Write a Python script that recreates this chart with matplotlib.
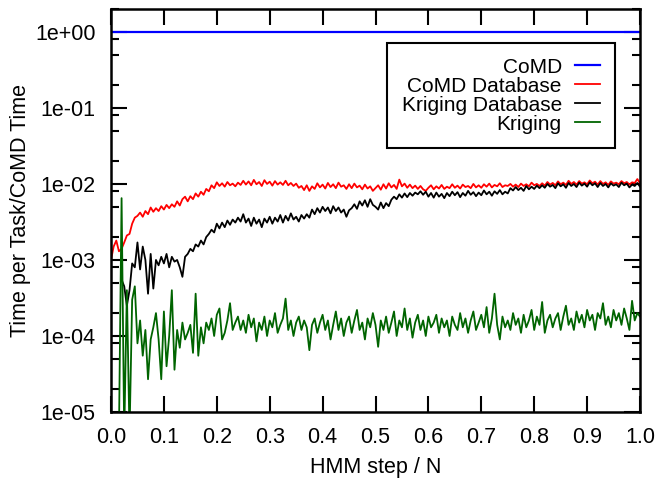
import numpy as np
import matplotlib
matplotlib.use("Agg")
import matplotlib.pyplot as plt
from matplotlib.ticker import FixedLocator, FuncFormatter, LogLocator, NullFormatter

plt.rcParams['font.family'] = ['Liberation Sans', 'DejaVu Sans']

nan = np.nan

# HMM step / N, one sample every 0.005
steps = np.linspace(0.0, 1.0, 201)

# CoMD time itself (normalised)
comd_x = [0.0, 1.0]
comd = [1.0, 1.0]

# CoMD Database, in units of 1e-3
comd_db = [
    1.0, 1.5, 1.8, 1.3, 1.4, 1.7, 2.1, 2.2, 3.0, 3.6,
    3.8, 4.2, 3.7, 4.4, 4.0, 4.9, 4.3, 4.8, 4.4, 5.1,
    4.6, 5.3, 4.8, 5.4, 5.0, 5.9, 5.2, 6.3, 6.8, 5.9,
    6.9, 6.3, 7.5, 6.8, 7.9, 7.2, 8.6, 8.0, 9.6, 8.8,
    10.5, 9.4, 10.2, 9.2, 10.6, 9.6, 10.1, 9.3, 10.4, 9.7,
    11.0, 9.8, 10.8, 9.6, 11.3, 9.9, 10.6, 9.4, 11.2, 10.0,
    10.7, 9.5, 10.9, 9.8, 10.5, 9.7, 11.0, 9.6, 10.3, 9.4,
    10.1, 8.9, 9.4, 8.3, 9.6, 8.1, 9.3, 8.6, 10.2, 9.0,
    9.8, 8.7, 10.3, 9.1, 9.9, 8.8, 10.4, 9.2, 9.6, 8.6,
    9.9, 8.8, 10.1, 9.0, 9.5, 8.5, 9.8, 8.7, 9.3, 8.1,
    8.8, 9.6, 8.4, 9.9, 8.7, 10.2, 9.0, 9.7, 8.6, 11.4,
    9.3, 10.1, 8.9, 9.8, 8.8, 9.5, 8.6, 9.4, 8.5, 8.1,
    8.9, 9.6, 8.5, 9.3, 8.7, 9.7, 8.6, 9.2, 8.8, 9.9,
    8.9, 9.5, 8.7, 9.8, 9.1, 9.4, 8.8, 10.0, 9.0, 9.6,
    8.9, 9.9, 9.2, 10.1, 9.0, 9.7, 9.3, 10.2, 9.1, 9.6,
    9.4, 10.0, 9.2, 9.8, 9.1, 10.1, 9.4, 9.9, 9.3, 10.4,
    9.6, 10.0, 9.4, 10.2, 9.5, 10.6, 9.8, 10.3, 9.6, 10.8,
    9.9, 10.4, 9.7, 11.0, 10.0, 10.6, 9.8, 10.9, 10.1, 10.5,
    9.9, 11.1, 10.2, 10.7, 9.8, 10.9, 10.0, 10.5, 9.7, 10.8,
    10.1, 10.4, 9.9, 10.9, 10.2, 10.6, 9.8, 10.5, 10.3, 11.6,
    10.2,
]

# Kriging Database, in units of 1e-3
kriging_db = [
    nan, nan, nan, nan, 0.55, 0.45, 0.25, 0.4, 0.9, 0.8,
    1.7, 0.75, 1.5, 1.0, 0.36, 1.2, 0.42, 1.0, 0.85, 1.1,
    0.9, 1.2, 0.8, 1.1, 0.95, 1.0, 0.8, 0.6, 1.1, 1.2,
    1.4, 1.3, 1.6, 1.5, 1.8, 1.6, 2.0, 2.2, 2.5, 2.3,
    3.0, 2.6, 3.1, 2.7, 3.3, 2.9, 3.4, 3.1, 3.6, 3.2,
    4.0, 3.1, 3.5, 2.8, 3.6, 3.0, 3.4, 2.7, 3.5, 3.1,
    3.7, 3.0, 3.6, 3.2, 3.9, 3.1, 3.8, 3.3, 4.1, 3.4,
    3.7, 3.2, 3.9, 3.5, 4.0, 3.6, 4.6, 4.0, 4.8, 4.2,
    5.0, 4.4, 4.9, 4.1, 5.1, 4.4, 4.9, 4.2, 4.6, 3.7,
    4.5, 4.8, 5.4, 4.7, 5.9, 5.2, 6.1, 5.0, 6.3, 5.3,
    5.0, 4.6, 5.7, 4.8, 5.6, 5.1, 6.2, 6.8, 6.3, 7.3,
    6.6, 7.5, 6.7, 7.6, 7.0, 7.7, 7.3, 8.0, 7.2, 7.9,
    6.8, 7.6, 6.6, 7.7, 6.8, 7.4, 6.5, 7.6, 6.9, 7.9,
    7.1, 7.8, 6.7, 7.6, 7.0, 8.1, 7.2, 7.8, 6.9, 7.7,
    7.1, 8.2, 7.3, 7.9, 7.0, 8.0, 7.4, 8.3, 7.3, 7.9,
    7.5, 8.8, 8.2, 9.1, 8.3, 8.9, 8.1, 9.4, 8.5, 9.2,
    8.6, 9.5, 8.8, 9.6, 8.9, 10.0, 9.2, 9.7, 8.8, 10.2,
    9.3, 9.9, 8.9, 10.3, 9.4, 10.0, 9.1, 10.4, 9.5, 10.1,
    9.2, 10.5, 9.6, 10.2, 9.1, 10.3, 9.4, 10.0, 9.0, 10.2,
    9.5, 9.9, 9.1, 10.4, 9.6, 10.1, 9.0, 9.8, 9.4, 10.3,
    9.2,
]

# Kriging, in units of 1e-4
kriging = [
    nan, nan, nan, 0.05, 65.0, 0.05, 4.0, 0.05, 3.0, 4.5,
    0.8, 1.6, 0.55, 1.2, 0.27, 0.9, 1.3, 2.0, 0.9, 0.27,
    2.1, 0.4, 1.0, 4.0, 0.36, 1.2, 0.7, 1.5, 0.9, 1.1,
    1.4, 0.6, 3.6, 0.55, 1.3, 0.8, 1.5, 1.2, 1.7, 1.0,
    1.9, 2.3, 0.9, 1.1, 1.6, 2.7, 1.2, 1.5, 1.8, 1.2,
    1.6, 1.1, 1.9, 1.3, 1.7, 0.85, 1.5, 1.2, 1.8, 1.0,
    1.6, 1.3, 2.0, 1.1, 1.4, 1.7, 3.1, 1.2, 1.6, 1.0,
    1.5, 1.8, 1.2, 1.6, 1.3, 0.65, 1.4, 1.7, 1.1, 1.5,
    1.9, 1.2, 1.6, 0.9, 1.4, 2.1, 1.2, 1.7, 1.0, 1.5,
    1.8, 1.1, 1.6, 2.2, 1.2, 1.5, 0.9, 1.7, 1.3, 2.0,
    1.4, 0.72, 1.6, 1.2, 1.8, 1.1, 1.5, 2.1, 1.0, 1.6,
    1.3, 2.3, 1.2, 1.7, 0.95, 1.5, 1.9, 1.2, 1.6, 1.0,
    1.8, 1.3, 1.5, 1.9, 1.1, 1.7, 1.3, 1.6, 1.0, 1.8,
    1.4, 1.2, 2.0, 1.3, 1.7, 1.1, 1.6, 2.1, 1.2, 1.5,
    1.9, 1.3, 2.4, 1.1, 1.7, 3.6, 1.4, 0.9, 1.8, 1.3,
    1.6, 1.2, 2.0, 1.4, 1.7, 1.1, 1.9, 1.3, 1.6, 2.2,
    1.2, 1.8, 1.4, 2.8, 1.1, 1.6, 1.9, 1.3, 1.7, 2.0,
    1.2, 1.8, 2.5, 1.4, 1.7, 1.2, 2.1, 1.5, 1.9, 1.3,
    2.2, 1.6, 1.9, 1.2, 2.0, 1.7, 2.7, 1.4, 1.8, 1.3,
    2.2, 1.6, 2.0, 1.4, 2.3, 1.7, 1.2, 2.9, 1.6, 2.0,
    1.8,
]

x_ticks = np.round(np.arange(0, 11) * 0.1, 1)
y_ticks = [1e-5, 1e-4, 1e-3, 1e-2, 1e-1, 1e0]

FS = 15.5

fig = plt.figure(figsize=(6.58, 4.80), dpi=100)
ax = fig.add_axes([111 / 658, 68 / 480, 529 / 658, 403 / 480])

ax.plot(comd_x, comd, color='#0000ff', lw=1.6, label='CoMD')
ax.plot(steps, np.array(comd_db) * 1e-3, color='#ff0000', lw=1.3, label='CoMD Database')
ax.plot(steps, np.array(kriging_db) * 1e-3, color='#000000', lw=1.3, label='Kriging Database')
ax.plot(steps, np.array(kriging) * 1e-4, color='#006400', lw=1.3, label='Kriging')

ax.set_yscale('log')
ax.set_xlim(0, 1)
ax.set_ylim(1e-5, 2)

ax.xaxis.set_major_locator(FixedLocator(x_ticks))
ax.xaxis.set_major_formatter(FuncFormatter(lambda v, p: f'{v:.1f}'))
ax.yaxis.set_major_locator(FixedLocator(y_ticks))
ax.yaxis.set_minor_locator(LogLocator(base=10, subs=[2, 5, 8]))
ax.yaxis.set_major_formatter(FuncFormatter(lambda v, p: f'{v:.0e}'))
ax.yaxis.set_minor_formatter(NullFormatter())

ax.tick_params(which='both', direction='in', top=True, right=True, width=1.5,
               labelsize=FS, colors='black')
ax.tick_params(which='major', length=11.5)
ax.tick_params(which='minor', length=5.5)
ax.tick_params(axis='x', pad=10.5)
ax.tick_params(axis='y', pad=11)

for s in ax.spines.values():
    s.set_linewidth(1.8)

ax.set_xlabel('HMM step / N', fontsize=FS, labelpad=7)
ax.set_ylabel('Time per Task/CoMD Time', fontsize=FS, labelpad=3)

leg = ax.legend(loc='upper right', bbox_to_anchor=((615 - 111) / 529, (412 - 43) / 403),
                borderaxespad=0, markerfirst=False, fontsize=15, fancybox=False,
                framealpha=1, edgecolor='black', handlelength=1.2, handletextpad=0.65,
                labelspacing=0.0, borderpad=0.7)
leg.get_frame().set_linewidth(1.5)

fig.savefig('out.png', dpi=100)
